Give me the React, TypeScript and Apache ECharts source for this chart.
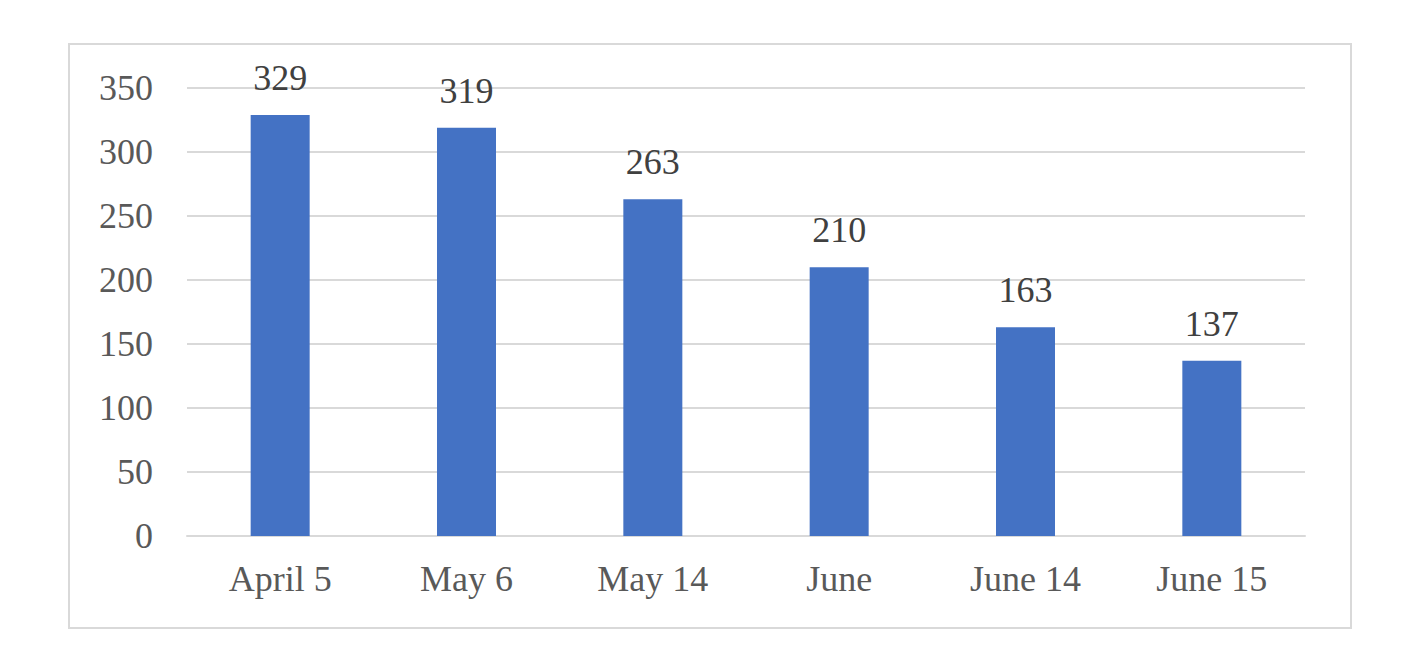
import { useEffect, useRef } from 'react';
import * as echarts from 'echarts';

// categories and values
const categories = ['April 5', 'May 6', 'May 14', 'June', 'June 14', 'June 15'];
const counts = [329, 319, 263, 210, 163, 137];
const yTicks = [0, 50, 100, 150, 200, 250, 300, 350];

const FONT = '"Liberation Serif", "DejaVu Serif", serif';

const App: React.FC = () => {
  const chartRef = useRef<HTMLDivElement>(null);

  useEffect(() => {
    if (!chartRef.current) return;
    document.body.style.margin = '0';
    const chart = echarts.init(chartRef.current, undefined, { renderer: 'svg' });

    chart.setOption({
      animation: false,
      backgroundColor: '#ffffff',
      textStyle: { fontFamily: FONT },
      graphic: [
        {
          type: 'rect',
          shape: { x: 69, y: 44, width: 1282, height: 584 },
          style: { fill: 'none', stroke: '#d9d9d9', lineWidth: 2 },
          silent: true
        }
      ],
      grid: { left: 187, right: 110, top: 88, bottom: 131 },
      xAxis: {
        type: 'category',
        data: categories,
        axisLine: { lineStyle: { color: '#d9d9d9', width: 2 } },
        axisTick: { show: false },
        axisLabel: {
          color: '#595959',
          fontSize: 36,
          fontFamily: FONT,
          margin: 25
        }
      },
      yAxis: {
        type: 'value',
        min: yTicks[0],
        max: yTicks[yTicks.length - 1],
        interval: 50,
        axisLine: { show: false },
        axisTick: { show: false },
        splitLine: { lineStyle: { color: '#d9d9d9', width: 2 } },
        axisLabel: {
          color: '#595959',
          fontSize: 36,
          fontFamily: FONT,
          margin: 34
        }
      },
      series: [
        {
          type: 'bar',
          data: counts,
          barWidth: 59,
          itemStyle: { color: '#4472c4' },
          label: {
            show: true,
            position: 'top',
            distance: 19,
            color: '#404040',
            fontSize: 36,
            fontFamily: FONT
          }
        }
      ]
    });

    return () => {
      if (!chart.isDisposed()) chart.dispose();
    };
  }, []);

  return <div ref={chartRef} style={{ width: '1415px', height: '667px' }} />;
};

export default App;
